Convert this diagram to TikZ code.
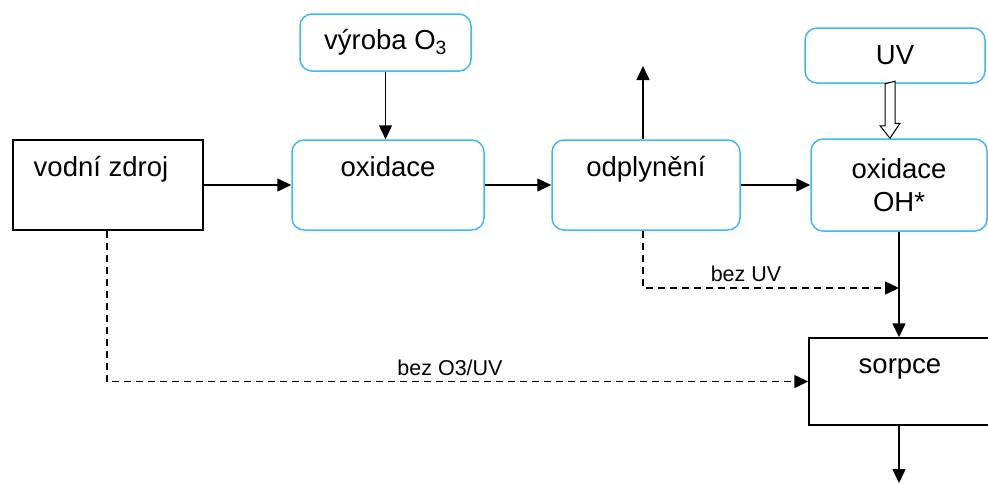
\documentclass[tikz,border=0pt]{standalone}
\usepackage{fontspec}
\setmainfont{Liberation Sans}
\usetikzlibrary{arrows.meta}
\definecolor{boxblue}{RGB}{60,185,240}

\tikzset{
  blackbox/.style={draw=black,line width=1.5pt,inner sep=0pt,font=\fontsize{27.5}{33}\selectfont},
  bluebox/.style={draw=boxblue,line width=1.5pt,rounded corners=12,inner sep=0pt,font=\fontsize{27.5}{33}\selectfont,align=center},
  upper/.style={text height=25,text depth=42},
  flow/.style={line width=1.5pt,-{Triangle[length=14,width=13]}},
  bypass/.style={flow,dash pattern=on 7pt off 5pt},
  hollow/.style={line width=1pt,fill=white},
  small/.style={font=\fontsize{21.5}{26}\selectfont,inner sep=1pt}
}

\begin{document}
\begin{tikzpicture}[x=1pt,y=-1pt]
\useasboundingbox (0,0) rectangle (988,483);
\node[blackbox,upper,minimum width=190,minimum height=90] (src) at (108,185) {vodní zdroj\hspace*{14pt}};
\node[bluebox,upper,minimum width=192,minimum height=90] (ox) at (388,185) {oxidace};
\node[bluebox,minimum width=171,minimum height=57] (ozone) at (385.5,42.5) {výroba O\textsubscript{3}};
\node[bluebox,upper,minimum width=188,minimum height=90] (gas) at (646,185) {odplynění};
\node[bluebox,minimum width=176,minimum height=92] (ohox) at (899,185) {oxidace\\OH*};
\node[bluebox,minimum width=180,minimum height=55] (uv) at (895,55.5) {UV};
\node[blackbox,upper,minimum width=182,minimum height=87] (sorp) at (900,381.5) {sorpce};
\coordinate (gasout) at (643,66);
\coordinate (join) at (899,288);
\coordinate (out) at (899,483);
\draw[flow] (src) -- (ox);
\draw[flow] (ozone.south) -- (ozone.south |- ox.north);
\draw[flow] (ox) -- (gas);
\draw[flow] (gasout |- gas.north) -- (gasout);
\draw[flow] (gas) -- (ohox);
\path (uv.south) ++(-5,0) coordinate (uvtop);
\path (ohox.north) ++(-9,0) coordinate (uvtip);
\draw[hollow] (uvtop) ++(-5,0) -- ++(0,42) -- ++(-5,0) -- (uvtip) -- ++(10,-15) -- ++(-5,0) -- ++(0,-42) -- cycle;
\draw[flow] (join |- ohox.south) -- (join |- sorp.north);
\draw[bypass] (gasout |- gas.south) |- (join);
\node[small,anchor=south] (nouv) at (746,283) {bez UV};
\draw[bypass] (src.south -| 107,0) |- (sorp.west);
\node[small,anchor=south] (noox) at (450,377) {bez O3/UV};
\draw[flow] (join |- sorp.south) -- (out);
\end{tikzpicture}
\end{document}
